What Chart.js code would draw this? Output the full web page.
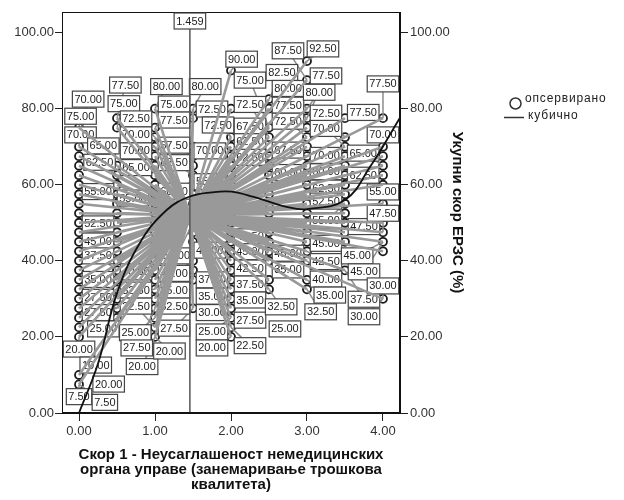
<!DOCTYPE html>
<html>
<head>
<meta charset="utf-8">
<script src="https://cdn.jsdelivr.net/npm/chart.js@4"></script>
<style>
  html, body { margin: 0; background: #fff; }
  canvas { display: block; }
</style>
</head>
<body>
<canvas id="scoreChart" width="624" height="500"></canvas>
<script>
// Observed scores, one list per value of the x score
const col000 = [7.5, 10, 20, 22.5, 25, 27.5, 30, 32.5, 35, 37.5, 40, 42.5, 45, 47.5, 50, 52.5, 55, 57.5, 60, 62.5, 65, 67.5, 70, 75];
const col050 = [25, 27.5, 30, 32.5, 35, 37.5, 40, 42.5, 45, 47.5, 50, 52.5, 55, 57.5, 60, 62.5, 65, 75, 77.5];
const col100 = [20, 22.5, 25, 27.5, 30, 32.5, 35, 37.5, 40, 42.5, 45, 47.5, 50, 52.5, 55, 57.5, 60, 62.5, 65, 67.5, 70, 72.5, 75, 80];
const col150 = [27.5, 35, 37.5, 40, 42.5, 45, 47.5, 50, 52.5, 55, 57.5, 60, 62.5, 65, 67.5, 70, 77.5, 80];
const col200 = [20, 22.5, 25, 27.5, 30, 32.5, 35, 37.5, 40, 42.5, 45, 47.5, 50, 52.5, 55, 57.5, 60, 62.5, 65, 67.5, 70, 72.5, 80, 90];
const col250 = [32.5, 35, 40, 42.5, 45, 47.5, 50, 52.5, 55, 57.5, 60, 62.5, 65, 67.5, 72.5, 75, 80, 82.5];
const col300 = [32.5, 35, 40, 42.5, 45, 47.5, 50, 52.5, 55, 57.5, 60, 62.5, 65, 67.5, 70, 72.5, 75, 77.5, 80, 87.5, 92.5];
const col350 = [37.5, 45, 47.5, 50, 52.5, 55, 57.5, 60, 62.5, 65, 67.5, 70, 72.5, 77.5];
const col400 = [30, 42.5, 45, 47.5, 50, 55, 60, 62.5, 65, 67.5, 70, 77.5];
const columns = [[0, col000], [0.5, col050], [1, col100], [1.5, col150], [2, col200], [2.5, col250], [3, col300], [3.5, col350], [4, col400]];

// Cubic fit
const fitX = [0, 0.25, 0.5, 0.8, 1.15, 1.46, 1.75, 2, 2.3, 2.73, 3, 3.5, 3.83, 4.22];
const fitY = [0, 13, 31.5, 44.7, 53.3, 56.9, 58, 58.2, 56.8, 54.2, 53.6, 56, 64.7, 77.5];

const meanX = 1.459;
const meanY = 52;

const xTicks = [0, 1, 2, 3, 4];
const yTicks = [0, 20, 40, 60, 80, 100];

// Label boxes: text, box centre in axis units, column it belongs to
const labelBoxes = [
  ['70.00', 0.12, 82.5, 0], ['75.00', 0.02, 78.0, 0], ['70.00', 0.02, 73.1, 0],
  ['65.00', 0.32, 70.2, 0.5], ['62.50', 0.27, 65.9, 0.5], ['55.00', 0.25, 58.2, 0.5],
  ['52.50', 0.25, 49.7, 0.5], ['45.00', 0.25, 45.2, 0.5], ['37.50', 0.25, 41.3, 0.5],
  ['35.00', 0.25, 35.1, 0.5], ['27.50', 0.25, 30.4, 0.5], ['27.50', 0.25, 26.4, 0.5],
  ['25.00', 0.32, 22.1, 0.5], ['20.00', 0, 16.8, 0], ['10.00', 0.22, 12.6, 0],
  ['20.00', 0.39, 7.6, null], ['7.50', 0, 4.3, 0], ['7.50', 0.34, 2.8, 0],
  ['77.50', 0.61, 86.2, 0.5], ['75.00', 0.59, 81.3, 0.5], ['72.50', 0.75, 77.3, 1],
  ['70.00', 0.75, 73.1, 1], ['70.00', 0.75, 68.9, 1], ['65.00', 0.75, 64.5, 1],
  ['55.00', 0.71, 56.5, 1], ['40.00', 0.75, 37.1, 1], ['32.50', 0.75, 32.3, 1],
  ['22.50', 0.75, 28.1, 1], ['25.00', 0.74, 21.1, 1], ['27.50', 0.76, 17.1, 1],
  ['20.00', 0.83, 12.2, 1],
  ['80.00', 1.15, 85.8, 1], ['75.00', 1.25, 81.2, 1], ['77.50', 1.25, 77.0, 1.5],
  ['67.50', 1.25, 70.4, 1.5], ['62.50', 1.25, 65.8, 1.5], ['60.00', 1.25, 58.3, 1.5],
  ['50.00', 1.28, 41.3, 1.5], ['40.00', 1.25, 36.7, 1.5], ['25.00', 1.25, 32.3, null],
  ['32.50', 1.25, 28.1, null], ['27.50', 1.25, 22.3, 1.5], ['20.00', 1.19, 16.3, 1],
  ['80.00', 1.66, 85.8, 1.5], ['72.50', 1.75, 79.9, 2], ['72.50', 1.83, 75.7, 2],
  ['70.00', 1.72, 68.9, 2], ['55.00', 1.72, 60.8, 2], ['45.00', 1.72, 42.8, 2],
  ['37.50', 1.75, 35.0, 2], ['35.00', 1.75, 30.7, 2], ['30.00', 1.75, 26.4, 2],
  ['25.00', 1.75, 21.3, 2], ['20.00', 1.75, 17.1, 2],
  ['90.00', 2.14, 93.0, 2], ['75.00', 2.25, 87.5, 2.5], ['72.50', 2.25, 81.1, 2.5],
  ['67.50', 2.25, 75.4, 2.5], ['62.50', 2.25, 71.3, 2.5], ['62.50', 2.25, 67.2, 2.5],
  ['47.50', 2.25, 46.3, 2.5], ['45.00', 2.25, 42.4, 2.5], ['42.50', 2.25, 38.1, 2.5],
  ['37.50', 2.25, 33.9, null], ['35.00', 2.25, 29.7, 2.5], ['27.50', 2.25, 24.4, null],
  ['22.50', 2.25, 17.7, 2],
  ['87.50', 2.75, 95.2, 3], ['82.50', 2.67, 89.5, 2.5], ['80.00', 2.75, 85.3, 3],
  ['77.50', 2.75, 80.9, 3], ['72.50', 2.75, 76.7, 3], ['67.50', 2.75, 69.1, 3],
  ['60.00', 2.75, 63.2, 3], ['45.00', 2.75, 42.0, 3], ['35.00', 2.75, 37.6, 3],
  ['32.50', 2.66, 27.9, 2.5], ['25.00', 2.71, 22.1, null],
  ['92.50', 3.21, 95.7, 3], ['77.50', 3.25, 88.6, 3], ['80.00', 3.16, 84.3, 3],
  ['72.50', 3.25, 78.8, 3.5], ['70.00', 3.25, 74.8, 3.5], ['70.00', 3.25, 67.7, 3.5],
  ['60.00', 3.25, 63.4, 3.5], ['62.50', 3.25, 59.1, 3.5], ['52.50', 3.25, 55.7, 3.5],
  ['55.00', 3.25, 50.5, 3.5], ['45.00', 3.25, 44.6, 3.5], ['42.50', 3.25, 39.8, 3],
  ['40.00', 3.25, 35.2, 3], ['35.00', 3.30, 31.0, 3], ['32.50', 3.18, 26.6, 3],
  ['77.50', 3.74, 79.0, 4], ['65.00', 3.74, 68.3, 4], ['62.50', 3.74, 62.5, 4],
  ['47.50', 3.75, 49.0, 4], ['45.00', 3.66, 41.3, 4], ['45.00', 3.75, 37.1, 4],
  ['37.50', 3.75, 29.9, 3.5], ['30.00', 3.75, 25.3, 4],
  ['77.50', 4, 86.5, 4], ['70.00', 4, 73.1, 4], ['55.00', 4, 58.1, 4],
  ['47.50', 4, 52.5, 4], ['30.00', 4, 33.4, 4]
];

const xTitle = ['Скор 1 - Неусаглашеност немедицинских', 'органа управе (занемаривање трошкова', 'квалитета)'];
const yTitle = 'Укупни скор ЕРЗС (%)';
const legendNames = ['опсервирано', 'кубично'];

const FONT = '"Liberation Sans", Arial, sans-serif';
const points = columns.flatMap(([x, ys]) => ys.map(y => ({ x: x, y: y })));

// each spike runs from the mean to a point, a null y breaks the line
const spikes = points.flatMap(p => [{ x: meanX, y: meanY }, p, { x: p.x, y: null }]);

function drawBox(ctx, text, cx, cy) {
  const w = ctx.measureText(text).width + 4;
  ctx.fillStyle = '#fff';
  ctx.strokeStyle = '#444';
  ctx.lineWidth = 1.2;
  ctx.fillRect(cx - w / 2, cy - 8, w, 16);
  ctx.strokeRect(cx - w / 2, cy - 8, w, 16);
  ctx.fillStyle = '#222';
  ctx.fillText(text, cx, cy + 0.5);
}

const labelPlugin = {
  id: 'labelPlugin',
  // boxes sit above the points but under the spikes
  afterDatasetDraw(chart, args) {
    if (args.index !== 3) return;
    const { ctx, scales } = chart;
    ctx.save();
    ctx.strokeStyle = '#8c8c8c';
    ctx.lineWidth = 1.5;
    labelBoxes.forEach(([text, x, y, col]) => {
      if (col === null) return;
      ctx.beginPath();
      ctx.moveTo(scales.x.getPixelForValue(x), scales.y.getPixelForValue(y));
      ctx.lineTo(scales.x.getPixelForValue(col), scales.y.getPixelForValue(parseFloat(text)));
      ctx.stroke();
    });
    ctx.font = '11px ' + FONT;
    ctx.textAlign = 'center';
    ctx.textBaseline = 'middle';
    labelBoxes.forEach(([text, x, y]) => {
      drawBox(ctx, text, scales.x.getPixelForValue(x), scales.y.getPixelForValue(y));
    });
    ctx.restore();
  },
  afterDraw(chart) {
    const { ctx, chartArea, scales } = chart;
    ctx.save();
    // frame
    ctx.strokeStyle = '#111';
    ctx.lineWidth = 1;
    ctx.strokeRect(chartArea.left + 0.5, chartArea.top + 0.5, chartArea.width - 1, chartArea.height - 1);
    // mean label
    ctx.font = '11px ' + FONT;
    ctx.textAlign = 'center';
    ctx.textBaseline = 'middle';
    drawBox(ctx, meanX.toFixed(3), scales.x.getPixelForValue(meanX), chartArea.top + 9);
    // legend
    ctx.strokeStyle = '#333';
    ctx.lineWidth = 1.5;
    ctx.beginPath();
    ctx.arc(515.5, 103.5, 5.5, 0, Math.PI * 2);
    ctx.stroke();
    ctx.beginPath();
    ctx.moveTo(504, 117.5);
    ctx.lineTo(524, 117.5);
    ctx.stroke();
    ctx.font = '12px ' + FONT;
    ctx.textAlign = 'left';
    ctx.fillStyle = '#222';
    ctx.letterSpacing = '0.85px';
    ctx.fillText(legendNames[0], 525, 99);
    ctx.fillText(legendNames[1], 528, 116);
    ctx.restore();
  }
};

const tickOpts = {
  color: '#333',
  font: { family: FONT, size: 13 },
  callback: v => v.toFixed(2)
};

new Chart(document.getElementById('scoreChart'), {
  type: 'scatter',
  data: {
    datasets: [
      {
        label: legendNames[1],
        data: fitX.map((x, i) => ({ x: x, y: fitY[i] })),
        showLine: true,
        pointRadius: 0,
        borderColor: '#111',
        borderWidth: 1.8,
        tension: 0.4,
        order: 0
      },
      {
        label: 'mean',
        data: [{ x: meanX, y: 0 }, { x: meanX, y: 105.4 }],
        showLine: true,
        pointRadius: 0,
        borderColor: '#555',
        borderWidth: 1.5,
        order: 1
      },
      {
        label: 'spikes',
        data: spikes,
        showLine: true,
        spanGaps: false,
        pointRadius: 0,
        borderColor: '#999',
        borderWidth: 2.6,
        order: 2
      },
      {
        label: legendNames[0],
        data: points,
        pointRadius: 4,
        pointBorderWidth: 1.8,
        pointBorderColor: '#1a1a1a',
        pointBackgroundColor: 'rgba(0,0,0,0)',
        order: 3
      }
    ]
  },
  plugins: [labelPlugin],
  options: {
    responsive: false,
    animation: false,
    layout: { padding: { top: 12, right: 158, bottom: 7, left: 0 } },
    plugins: { legend: { display: false }, tooltip: { enabled: false } },
    scales: {
      x: {
        type: 'linear',
        min: -0.224,
        max: 4.224,
        afterBuildTicks: s => { s.ticks = xTicks.map(v => ({ value: v })); },
        afterFit: s => { s.height = 80; },
        grid: { drawOnChartArea: false, color: '#222', tickLength: 8 },
        border: { color: '#111' },
        ticks: Object.assign({ padding: 3, maxRotation: 0 }, tickOpts),
        title: {
          display: true,
          text: xTitle,
          color: '#111',
          padding: 0,
          font: { family: FONT, size: 15, weight: 'bold', lineHeight: 1.03 }
        }
      },
      y: {
        type: 'linear',
        min: 0,
        max: 105.4,
        afterBuildTicks: s => { s.ticks = yTicks.map(v => ({ value: v })); },
        afterFit: s => { s.width = 62; },
        grid: { drawOnChartArea: false, color: '#222', tickLength: 7 },
        border: { color: '#111' },
        ticks: Object.assign({ padding: 1 }, tickOpts)
      },
      y2: {
        type: 'linear',
        position: 'right',
        min: 0,
        max: 105.4,
        afterBuildTicks: s => { s.ticks = yTicks.map(v => ({ value: v })); },
        afterFit: s => { s.width = 66; },
        grid: { drawOnChartArea: false, color: '#222', tickLength: 8 },
        border: { color: '#111' },
        ticks: Object.assign({ padding: 2 }, tickOpts),
        title: {
          display: true,
          text: yTitle,
          color: '#111',
          padding: 0,
          font: { family: FONT, size: 15, weight: 'bold' }
        }
      }
    }
  }
});
</script>
</body>
</html>
